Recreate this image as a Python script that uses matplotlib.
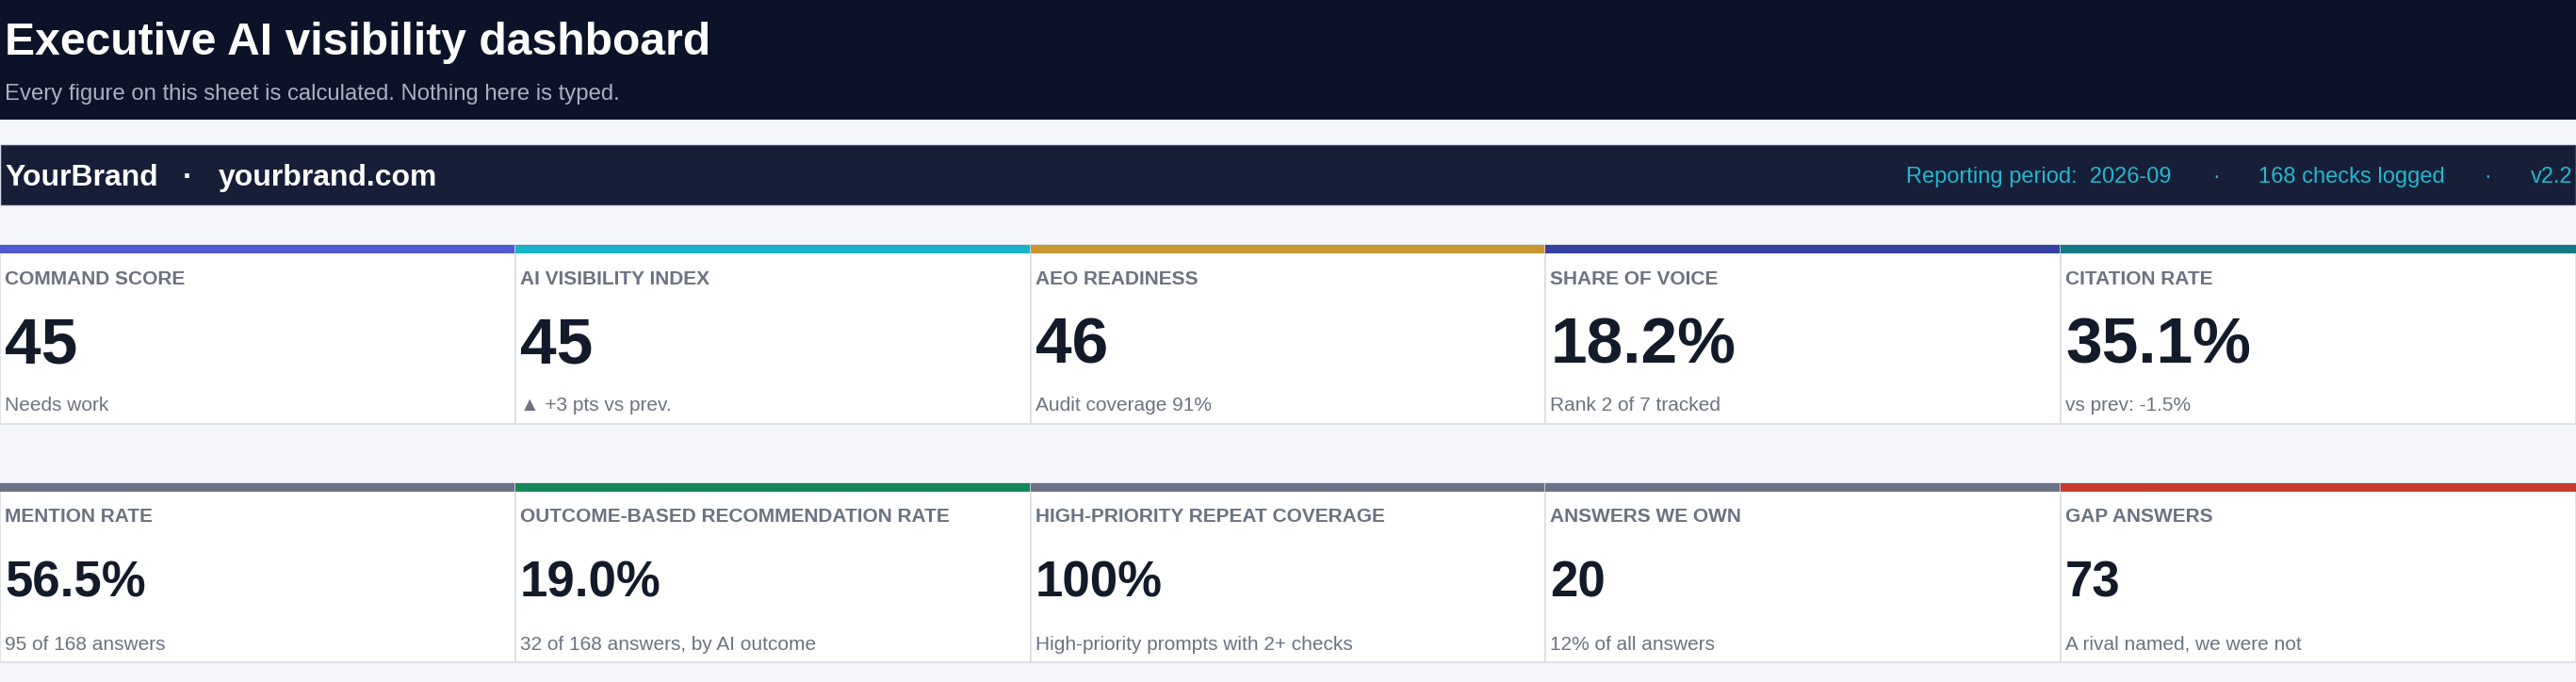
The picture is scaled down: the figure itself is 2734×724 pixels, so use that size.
import matplotlib
matplotlib.use("Agg")
import matplotlib.pyplot as plt
from matplotlib.patches import Rectangle

plt.rcParams['font.family'] = ['Liberation Sans', 'DejaVu Sans']

title = "Executive AI visibility dashboard"
subtitle = "Every figure on this sheet is calculated. Nothing here is typed."
brand = "YourBrand"
domain = "yourbrand.com"
period = "Reporting period:  2026-09"
checks = "168 checks logged"
version = "v2.2"

labels_row1 = ["COMMAND SCORE", "AI VISIBILITY INDEX", "AEO READINESS", "SHARE OF VOICE", "CITATION RATE"]
values_row1 = ["45", "45", "46", "18.2%", "35.1%"]
notes_row1 = ["Needs work", "\u25B2 +3 pts vs prev.", "Audit coverage 91%", "Rank 2 of 7 tracked", "vs prev: -1.5%"]
colors_row1 = ["#4f5bd5", "#17b3c8", "#c9952e", "#353f9e", "#127a85"]

labels_row2 = ["MENTION RATE", "OUTCOME-BASED RECOMMENDATION RATE", "HIGH-PRIORITY REPEAT COVERAGE", "ANSWERS WE OWN", "GAP ANSWERS"]
values_row2 = ["56.5%", "19.0%", "100%", "20", "73"]
notes_row2 = ["95 of 168 answers", "32 of 168 answers, by AI outcome", "High-priority prompts with 2+ checks", "12% of all answers", "A rival named, we were not"]
colors_row2 = ["#6b7185", "#13875a", "#6b7185", "#6b7185", "#c8392f"]

W, H = 2734, 724
fig = plt.figure(figsize=(W / 100, H / 100), dpi=100)
fig.patch.set_facecolor("#f4f6fa")
ax = fig.add_axes([0, 0, 1, 1])
ax.set_xlim(0, W)
ax.set_ylim(H, 0)
ax.axis("off")

# header band
ax.add_patch(Rectangle((0, 0), W, 127, color="#0c1328", lw=0))
ax.text(5, 46, title, color="white", fontsize=34.6, fontweight="bold", va="center", ha="left")
ax.text(5, 100, subtitle, color="#a9b1c2", fontsize=17.2, va="center", ha="left")

# brand band
ax.add_patch(Rectangle((0, 153), W, 65, facecolor="#161e38", edgecolor="#d9dde8", lw=1))
ax.text(5, 189, brand, color="white", fontsize=23, fontweight="bold", va="center")
ax.text(199, 189, "\u00B7", color="white", fontsize=23, fontweight="bold", va="center", ha="center")
ax.text(232, 189, domain, color="white", fontsize=23, fontweight="bold", va="center")
cy = "#22b8cf"
ax.text(2023, 188, period, color=cy, fontsize=17, va="center")
ax.text(2352, 188, "\u00B7", color=cy, fontsize=17, va="center", ha="center")
ax.text(2397, 188, checks, color=cy, fontsize=17, va="center")
ax.text(2640, 188, "\u00B7", color=cy, fontsize=17, va="center", ha="center")
ax.text(2731, 188, version, color=cy, fontsize=17, va="center", ha="right")

cw = W / 5

def row(top, labels, values, notes, colors, vsize, vy):
    bottom = top + 190
    for i in range(5):
        x0 = i * cw
        ax.add_patch(Rectangle((x0, top), cw, bottom - top, facecolor="white", edgecolor="#d9dde5", lw=1.2))
        ax.add_patch(Rectangle((x0, top), cw, 9, color=colors[i], lw=0))
        ax.text(x0 + 5, top + 36, labels[i], color="#6b7280", fontsize=15, fontweight="bold", va="center")
        ax.text(x0 + 5, top + vy, values[i], color="#131a2a", fontsize=vsize, fontweight="bold", va="center")
        ax.text(x0 + 5, top + 171, notes[i], color="#6b7280", fontsize=15, va="center")

row(260, labels_row1, values_row1, notes_row1, colors_row1, 50, 107)
row(513, labels_row2, values_row2, notes_row2, colors_row2, 38, 107)

fig.savefig("out.png", dpi=100, facecolor=fig.get_facecolor())
